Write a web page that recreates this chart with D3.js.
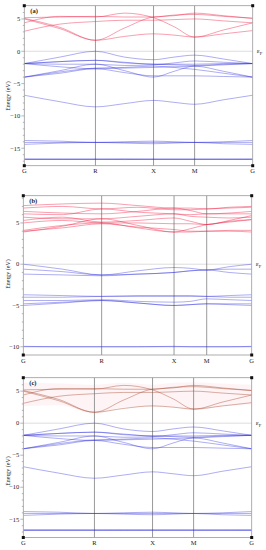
<!DOCTYPE html>
<html>
<head>
<meta charset="utf-8">
<script src="https://cdn.jsdelivr.net/npm/d3@7"></script>
<style>
  html, body { margin: 0; padding: 0; background: #fff; }
  svg { display: block; }
  text { font-family: "Liberation Serif", "DejaVu Serif", serif; fill: #222; }
</style>
</head>
<body>
<svg id="canvas" width="266" height="550"></svg>
<script>
'use strict';

/* high symmetry points along the path */
const kLabels = ['G', 'R', 'X', 'M', 'G'];
/* positions of the high symmetry points (path length units) */
const kTicksCubic = [0, 1.732, 3.146, 4.146, 5.56];
const kTicksB = [0, 0.343, 0.66, 0.803, 1];

/* every band is sampled at: G, G-R mid, R, R-X mid, X, X-M mid, M, M-G mid, G */

/* panel (a) conduction bands (eV) */
const condA = [
  [5.1, 3.7, 1.7, 3.6, 5.3, 5.5, 5.9, 5.5, 5.1],
  [5.0, 3.5, 1.7, 2.3, 2.7, 2.5, 2.2, 2.7, 3.2],
  [4.4, 5.4, 5.3, 5.9, 5.2, 3.8, 2.2, 3.3, 4.4],
  [3.1, 4.2, 4.6, 4.8, 4.8, 4.9, 5.0, 4.7, 4.4],
  [5.2, 5.3, 5.4, 5.3, 5.3, 5.6, 5.7, 5.4, 5.1]
];
/* panel (a) valence bands (eV) */
const valA = [
  [-1.9, -0.9, 0.0, -0.9, -1.3, -0.9, -0.6, -1.2, -1.9],
  [-1.9, -1.6, -1.4, -1.7, -2.0, -2.0, -2.0, -1.9, -1.9],
  [-1.9, -1.6, -1.4, -1.8, -2.0, -2.1, -2.2, -2.0, -1.9],
  [-1.9, -2.0, -2.0, -2.2, -2.1, -1.8, -1.5, -1.7, -1.9],
  [-4.0, -3.0, -2.0, -3.0, -4.0, -3.1, -2.3, -3.1, -4.0],
  [-4.0, -3.2, -2.6, -2.5, -2.3, -2.5, -2.8, -3.4, -4.0],
  [-1.9, -2.4, -2.7, -2.6, -2.5, -2.4, -2.3, -2.1, -1.9],
  [-4.0, -3.4, -2.7, -3.3, -3.8, -3.8, -3.8, -3.9, -4.0],
  [-6.8, -7.8, -8.6, -8.1, -7.6, -7.9, -8.2, -7.5, -6.8],
  [-13.8, -13.9, -14.1, -14.0, -13.9, -14.0, -14.1, -14.0, -13.8],
  [-14.4, -14.2, -14.1, -14.2, -14.3, -14.2, -14.1, -14.3, -14.4],
  [-14.1, -14.1, -14.1, -14.1, -14.1, -14.1, -14.1, -14.1, -14.1],
  [-16.7, -16.7, -16.7, -16.7, -16.7, -16.7, -16.7, -16.7, -16.7],
  [-16.65, -16.7, -16.7, -16.65, -16.7, -16.7, -16.7, -16.7, -16.65],
  [-16.75, -16.7, -16.7, -16.75, -16.7, -16.7, -16.7, -16.7, -16.75]
];

/* panel (b) conduction bands (eV) */
const condB = [
  [7.1, 7.3, 7.4, 7.1, 6.8, 6.8, 6.7, 6.9, 7.0],
  [6.8, 7.0, 6.7, 6.9, 6.6, 6.6, 6.7, 6.8, 6.9],
  [6.4, 6.2, 6.1, 6.4, 6.8, 6.5, 6.1, 6.2, 6.4],
  [6.1, 6.0, 6.7, 6.3, 6.1, 6.0, 6.1, 6.1, 6.1],
  [5.7, 5.5, 5.5, 5.8, 6.1, 5.8, 5.7, 5.6, 5.7],
  [5.3, 5.7, 5.1, 5.3, 5.6, 5.2, 4.8, 5.2, 5.4],
  [5.0, 5.3, 5.0, 5.0, 4.9, 4.9, 4.8, 5.3, 5.9],
  [4.1, 4.7, 5.0, 4.4, 3.9, 4.3, 4.8, 5.1, 5.4],
  [3.9, 4.6, 5.5, 4.7, 3.9, 3.9, 4.0, 4.0, 3.9],
  [4.0, 4.4, 4.9, 4.5, 4.2, 4.0, 4.0, 4.1, 4.1]
];
/* panel (b) valence bands (eV) */
const valB = [
  [0.0, -0.6, -1.3, -0.8, -0.4, -0.5, -0.7, -0.3, 0.0],
  [-0.6, -0.9, -1.3, -1.2, -1.0, -0.8, -0.7, -0.6, -0.6],
  [-1.2, -1.3, -1.4, -1.2, -1.0, -0.8, -0.7, -1.0, -1.2],
  [-3.7, -3.8, -3.9, -3.8, -3.8, -3.8, -3.9, -3.8, -3.7],
  [-4.0, -4.0, -3.9, -3.9, -3.9, -3.9, -3.9, -4.0, -4.0],
  [-4.4, -4.4, -4.3, -4.5, -4.6, -4.5, -4.2, -4.3, -4.4],
  [-4.8, -4.6, -4.4, -4.7, -5.0, -4.9, -4.8, -4.8, -4.8],
  [-5.0, -4.7, -4.4, -4.7, -5.0, -4.9, -4.8, -4.9, -5.0],
  [-10.0, -10.0, -10.0, -10.0, -10.0, -10.0, -10.0, -10.0, -10.0],
  [-9.95, -10.0, -10.0, -10.0, -9.95, -10.0, -10.0, -10.0, -9.95]
];

/* panel (c) shares the band layout of (a) */
const condC = condA;
const valC = valA;
/* lower and upper edge of the shaded conduction region in (c) */
const shadeC = [
  [2.6, 2.8, 1.5, 2.5, 2.6, 2.5, 2.0, 2.6, 2.9],
  [6.3, 6.2, 6.0, 6.3, 6.0, 6.3, 6.4, 6.2, 6.0]
];

const svg = d3.select('svg#canvas');

/**
 * draw one band structure panel
 */
function drawPanel(p){
  let x = d3.scaleLinear()
    .domain([p.kTicks[0], p.kTicks[p.kTicks.length-1]])
    .range([p.left, p.right]);
  let y = d3.scaleLinear()
    .domain(p.yDomain)
    .range([p.bottom, p.top]);

  /* k coordinates of the samples: every point and the middle of each segment */
  let ks = [];
  for( let i=0; i<p.kTicks.length-1; ++i ){
    ks.push(p.kTicks[i]);
    ks.push((p.kTicks[i]+p.kTicks[i+1])/2);
  }
  ks.push(p.kTicks[p.kTicks.length-1]);

  let g = svg.append('g').attr('id', 'panel-'+p.name);

  /* clip the bands to the frame */
  g.append('clipPath').attr('id', 'clip-'+p.name)
    .append('rect')
      .attr('x', p.left).attr('y', p.top)
      .attr('width', p.right-p.left).attr('height', p.bottom-p.top);

  /* shaded conduction region (fat band look of panel c) */
  if( p.shade ){
    let area = d3.area()
      .x((d,i) => x(ks[i]))
      .y0((d,i) => y(p.shade[0][i]))
      .y1((d,i) => y(p.shade[1][i]))
      .curve(d3.curveMonotoneX);
    g.append('path')
      .datum(ks)
      .attr('d', area)
      .attr('fill', '#fbd6de')
      .attr('fill-opacity', 0.28)
      .attr('clip-path', 'url(#clip-'+p.name+')');
  }

  /* Fermi level */
  g.append('line')
    .attr('x1', p.left).attr('x2', p.right)
    .attr('y1', y(0)).attr('y2', y(0))
    .attr('stroke', '#d4d4d4').attr('stroke-width', 0.8);

  /* high symmetry vertical lines */
  g.selectAll('line.ksym')
    .data(p.kTicks.slice(1, -1))
    .enter().append('line')
      .attr('class', 'ksym')
      .attr('x1', d => x(d)).attr('x2', d => x(d))
      .attr('y1', p.top).attr('y2', p.bottom)
      .attr('stroke', '#808080').attr('stroke-width', 0.8);

  let line = d3.line()
    .x((d,i) => x(ks[i]))
    .y(d => y(d))
    .curve(d3.curveMonotoneX);

  let bands = g.append('g').attr('clip-path', 'url(#clip-'+p.name+')');
  bands.selectAll('path.val')
    .data(p.val)
    .enter().append('path')
      .attr('class', 'val')
      .attr('d', line)
      .attr('fill', 'none')
      .attr('stroke', '#2b2bdc')
      .attr('stroke-opacity', 0.45)
      .attr('stroke-width', 0.85);
  bands.selectAll('path.cond')
    .data(p.cond)
    .enter().append('path')
      .attr('class', 'cond')
      .attr('d', line)
      .attr('fill', 'none')
      .attr('stroke', p.condColor)
      .attr('stroke-opacity', 0.5)
      .attr('stroke-width', 0.85);

  /* frame */
  g.append('rect')
    .attr('x', p.left).attr('y', p.top)
    .attr('width', p.right-p.left).attr('height', p.bottom-p.top)
    .attr('fill', 'none')
    .attr('stroke', '#9a9a9a').attr('stroke-width', 0.8);

  /* left axis: minor ticks every 1 eV, labels every 5 eV */
  let minor = d3.range(Math.ceil(p.yDomain[0]), Math.floor(p.yDomain[1])+1);
  g.selectAll('line.ytick')
    .data(minor)
    .enter().append('line')
      .attr('class', 'ytick')
      .attr('x1', d => p.left - (d%5===0 ? 3 : 1.5))
      .attr('x2', p.left)
      .attr('y1', d => y(d)).attr('y2', d => y(d))
      .attr('stroke', '#888').attr('stroke-width', 0.6);
  g.selectAll('text.ylab')
    .data(minor.filter(d => d%5===0))
    .enter().append('text')
      .attr('class', 'ylab')
      .attr('x', p.left - 4)
      .attr('y', d => y(d))
      .attr('dy', '0.35em')
      .attr('text-anchor', 'end')
      .style('font-size', '6.5px')
      .text(d => d < 0 ? '\u2212'+(-d) : d);

  /* x labels */
  g.selectAll('text.klab')
    .data(p.kTicks)
    .enter().append('text')
      .attr('class', 'klab')
      .attr('x', d => x(d))
      .attr('y', p.bottom + 7.5)
      .attr('text-anchor', 'middle')
      .style('font-size', '6.5px')
      .text((d,i) => kLabels[i]);

  /* corner markers */
  let corners = [[p.left, p.top], [p.right, p.top], [p.left, p.bottom], [p.right, p.bottom]];
  g.selectAll('rect.corner')
    .data(corners)
    .enter().append('rect')
      .attr('class', 'corner')
      .attr('x', d => d[0]-1.5).attr('y', d => d[1]-1.5)
      .attr('width', 3).attr('height', 3)
      .attr('fill', '#111');

  /* panel label */
  g.append('text')
    .attr('x', p.left + 6)
    .attr('y', p.top + 7.5)
    .style('font-size', '6.5px')
    .style('font-weight', 'bold')
    .text('('+p.name+')');

  /* y axis title */
  g.append('text')
    .attr('transform', 'translate(10,'+p.titleY+') rotate(-90)')
    .attr('text-anchor', 'middle')
    .style('font-size', '6px')
    .text('Energy (eV)');

  /* Fermi level label */
  let ef = g.append('text')
    .attr('x', p.right + 4)
    .attr('y', y(0) + 2)
    .style('font-size', '7px')
    .text('\u03b5');
  ef.append('tspan')
    .attr('dy', 2)
    .style('font-size', '4.5px')
    .text('F');
}

drawPanel({
  name: 'a', left: 24.3, right: 252.7, top: 5.7, bottom: 165.7,
  yDomain: [-17.7, 7.05], kTicks: kTicksCubic,
  cond: condA, val: valA, condColor: '#ee1f45', titleY: 96
});
drawPanel({
  name: 'b', left: 23.3, right: 251.7, top: 195.7, bottom: 355,
  yDomain: [-11, 8.3], kTicks: kTicksB,
  cond: condB, val: valB, condColor: '#ee1f45', titleY: 274
});
drawPanel({
  name: 'c', left: 23.3, right: 251.7, top: 377.7, bottom: 537.5,
  yDomain: [-17.85, 7.1], kTicks: kTicksCubic,
  cond: condC, val: valC, condColor: '#a8472c', titleY: 471,
  shade: shadeC
});
</script>
</body>
</html>
